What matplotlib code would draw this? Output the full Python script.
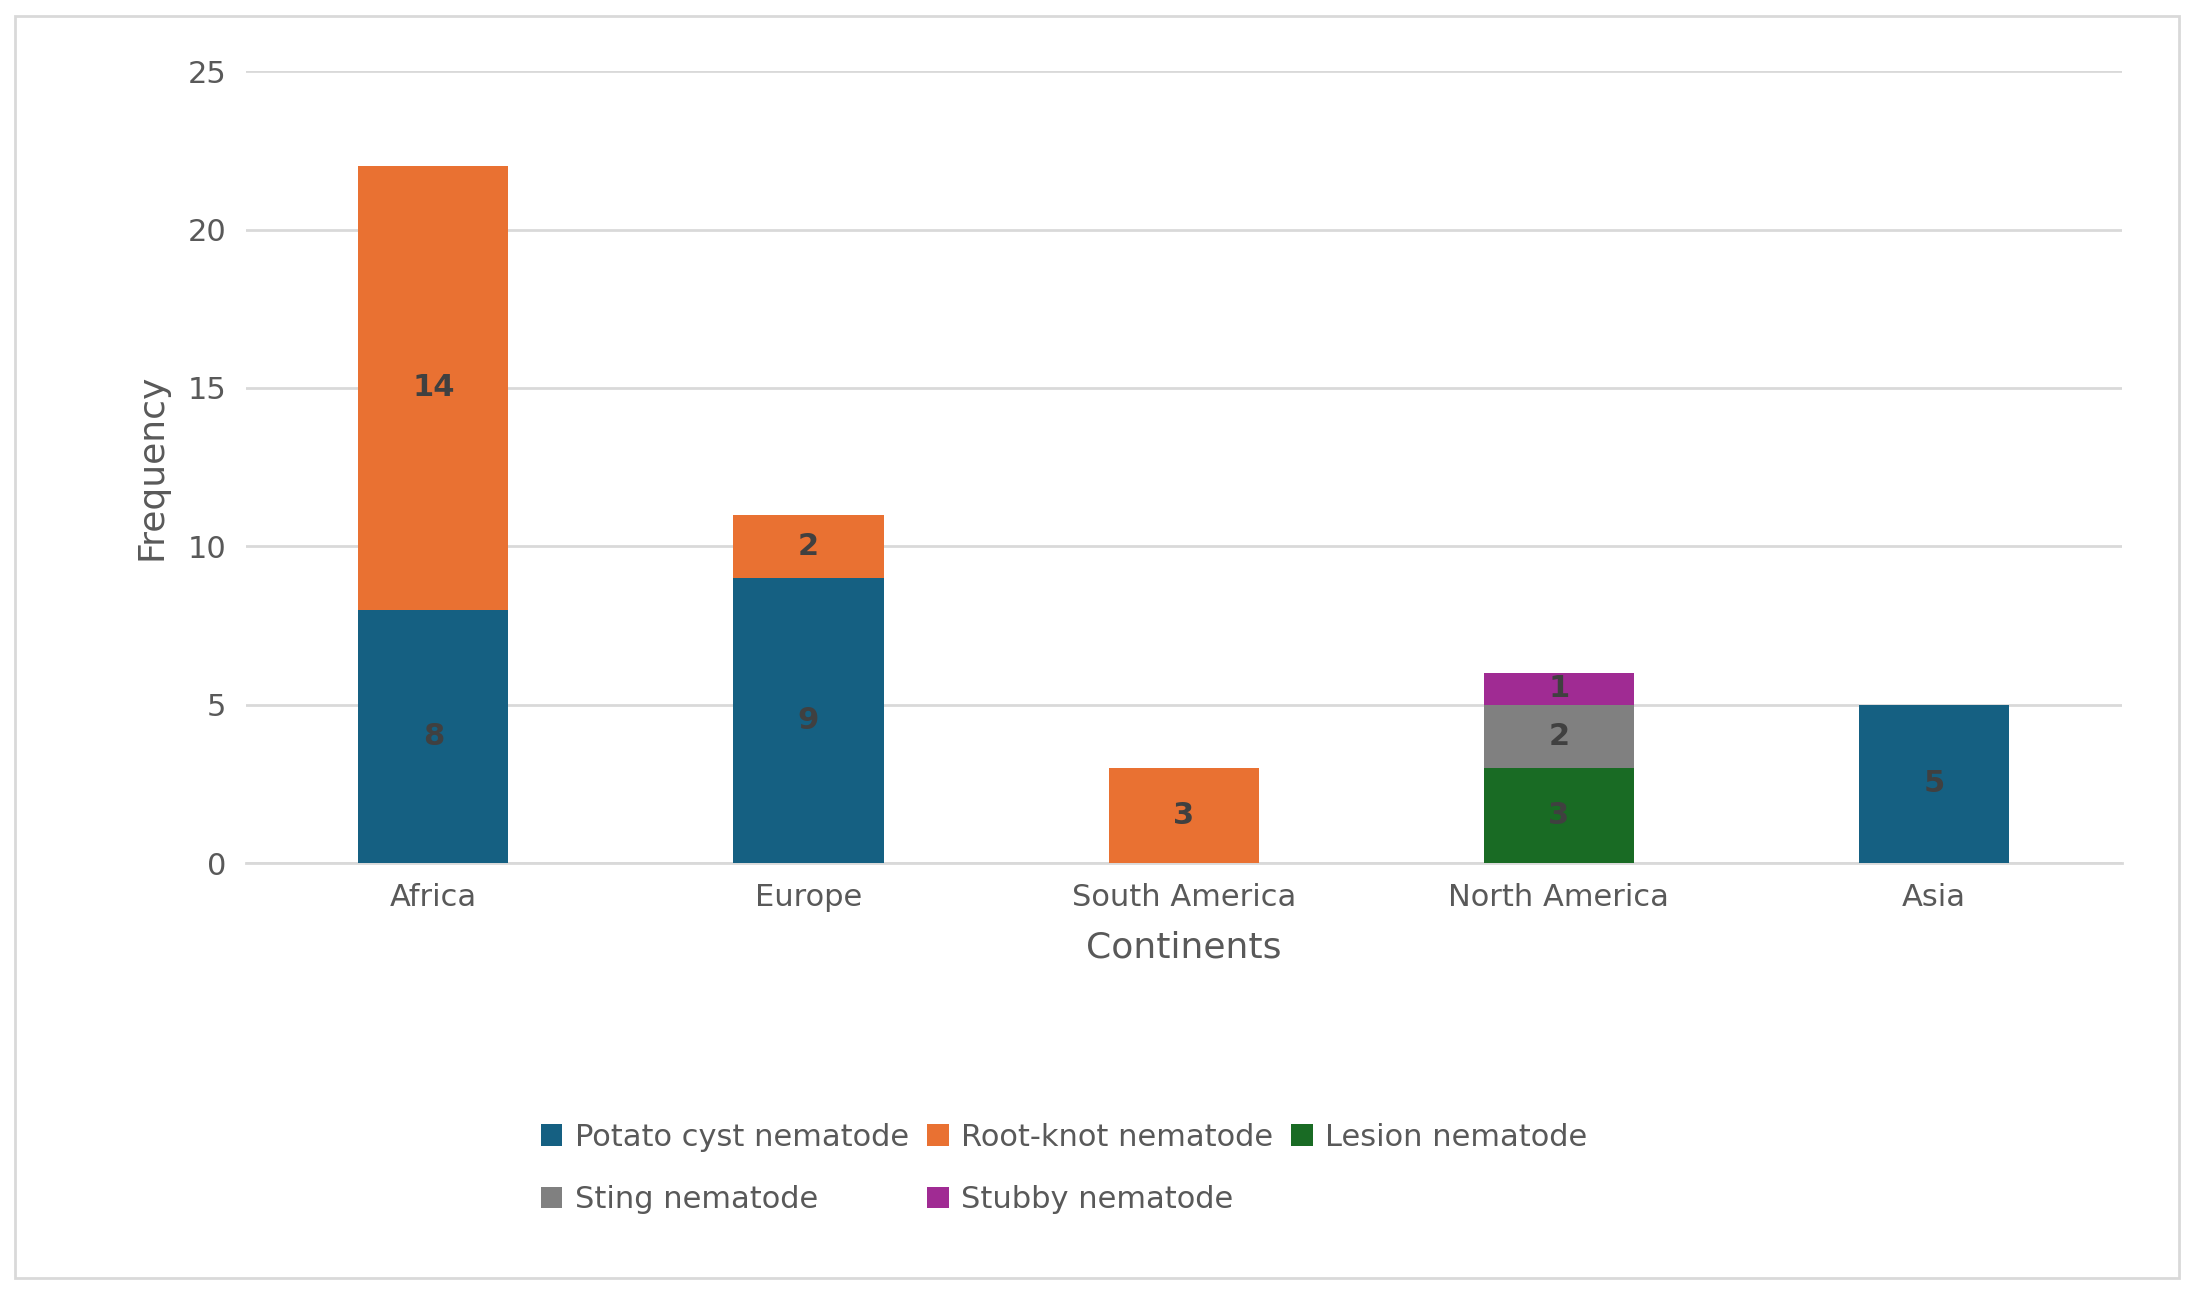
import matplotlib.pyplot as plt
import numpy as np
from matplotlib.patches import Rectangle

continents = ['Africa', 'Europe', 'South America', 'North America', 'Asia']
series = ['Potato cyst nematode', 'Root-knot nematode', 'Lesion nematode',
          'Sting nematode', 'Stubby nematode']
values = {
    'Potato cyst nematode': [8, 9, 0, 0, 5],
    'Root-knot nematode': [14, 2, 3, 0, 0],
    'Lesion nematode': [0, 0, 0, 3, 0],
    'Sting nematode': [0, 0, 0, 2, 0],
    'Stubby nematode': [0, 0, 0, 1, 0],
}
colors = ['#156082', '#E97132', '#196B24', '#808080', '#A02B93']

fig = plt.figure(figsize=(21.94, 12.94), dpi=100)
ax = fig.add_axes([0.112, 0.333, 0.855, 0.612])
fig.patches.append(Rectangle((0.007, 0.012), 0.986, 0.976, transform=fig.transFigure,
                             fill=False, edgecolor='#D9D9D9', linewidth=2))

x = np.arange(len(continents))
bottom = np.zeros(len(continents))
handles = {}
for name, c in zip(series, colors):
    v = np.array(values[name], dtype=float)
    bars = ax.bar(x, v, 0.4, bottom=bottom, color=c, label=name, zorder=3)
    handles[name] = bars
    for xi, vi, bi in zip(x, v, bottom):
        if vi > 0:
            ax.text(xi, bi + vi / 2, f'{int(vi)}', ha='center', va='center',
                    fontsize=22, fontweight='bold', color='#404040', zorder=4)
    bottom += v

ax.set_ylim(0, 25)
ax.set_xlim(-0.5, 4.5)
ax.set_yticks(range(0, 26, 5))
ax.grid(axis='y', color='#D9D9D9', linewidth=2, zorder=0)
for s in ['top', 'right', 'left']:
    ax.spines[s].set_visible(False)
ax.spines['bottom'].set_color('#D9D9D9')
ax.spines['bottom'].set_linewidth(2)
ax.tick_params(length=0, labelsize=22, labelcolor='#595959', pad=14)
ax.set_xticks(x)
ax.set_xticklabels(continents)
ax.set_xlabel('Continents', fontsize=26, color='#595959', labelpad=14)
ax.set_ylabel('Frequency', fontsize=26, color='#595959', labelpad=14)

order = ['Potato cyst nematode', 'Sting nematode', 'Root-knot nematode',
         'Stubby nematode', 'Lesion nematode']
fig.legend([handles[n] for n in order], order, ncol=3, loc='center',
           bbox_to_anchor=(0.485, 0.097), frameon=False, fontsize=22,
           labelcolor='#595959', handlelength=0.7, handleheight=0.7,
           handletextpad=0.4, columnspacing=0.6, labelspacing=1.1)

fig.savefig('out.png', dpi=100)
